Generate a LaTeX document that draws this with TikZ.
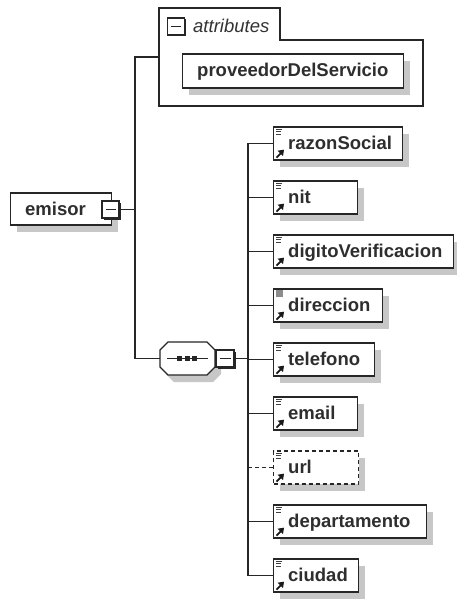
\documentclass[tikz,border=0pt]{standalone}
\usepackage{fontspec}
\setmainfont{Liberation Sans}
\usetikzlibrary{shadows}

\tikzset{
  tree/.style={line width=1.2pt, draw=black!85},
  shade/.style={drop shadow={shadow xshift=6pt, shadow yshift=-7pt, fill=black!22, opacity=1}},
  box/.style={rectangle, draw=black!85, line width=1.4pt, fill=white, inner sep=0pt,
    anchor=west, minimum height=33pt, shade},
  optbox/.style={dash pattern=on 4pt off 3pt},
  lbl/.style={anchor=base west, inner sep=0pt, text=black!82,
    font=\fontsize{18.5}{20}\selectfont\bfseries},
  grp/.style={anchor=base west, inner sep=0pt, text=black!80,
    font=\fontsize{18.5}{20}\selectfont\itshape},
  minusbox/.style={rectangle, draw=black!85, line width=1.2pt, fill=white, inner sep=0pt,
    minimum width=17pt, minimum height=17pt,
    drop shadow={shadow xshift=1.5pt, shadow yshift=-1.5pt, fill=black!85, opacity=1},
    path picture={\draw[line width=1pt, black!85]
      ([xshift=3.5pt]path picture bounding box.west) --
      ([xshift=-3.5pt]path picture bounding box.east);}},
  icon/.style={line width=0.9pt, draw=black!75},
  tipline/.style={line width=1.8pt, draw=black!90},
  tiphead/.style={fill=black!90}
}

% element box with its list marker and reference arrow
\newcommand\kidbox[5]{%
  \node[box, minimum width=#3pt, #5] (#1) at (273,#2) {};
  \node[lbl] (#1-t) at ([xshift=15pt,yshift=-5.5pt]#1.west) {#4};
  \draw[icon] ([shift={(3pt,-3pt)}]#1.north west) -- ++(6,0);
  \draw[icon] ([shift={(3pt,-5.5pt)}]#1.north west) -- ++(5,0);
  \draw[icon] ([shift={(3pt,-8pt)}]#1.north west) -- ++(5,0);
  \draw[tipline] ([shift={(3.5pt,3pt)}]#1.south west) -- ([shift={(8pt,7.5pt)}]#1.south west);
  \fill[tiphead] ([shift={(11pt,11pt)}]#1.south west) -- ([shift={(4.5pt,10pt)}]#1.south west)
    -- ([shift={(10pt,4.5pt)}]#1.south west) -- cycle;
}

\begin{document}
\begin{tikzpicture}[x=1pt, y=-1pt]
\useasboundingbox (0,0) rectangle (456,599);

% bus positions
\coordinate (busA) at (135,0);
\coordinate (busB) at (248,0);

% attributes group
\draw[tree, line width=1.3pt, fill=white] (159,106) -- (159,8) -- (280,8) -- (280,40)
  -- (423,40) -- (423,106) -- cycle;
\coordinate (attrport) at (159,57);
\node[minusbox] (attrmin) at (176,26.5) {};
\node[grp] (attrtxt) at (193,32.5) {attributes};
\node[box, minimum width=221pt, minimum height=34pt] (prov) at (182,71) {};
\node[lbl] (prov-t) at ([xshift=15pt,yshift=-6pt]prov.west) {proveedorDelServicio};

% root element
\node[box, minimum width=101pt, minimum height=32pt] (emisor) at (10,209) {};
\node[lbl] (emisor-t) at ([xshift=15pt,yshift=-6pt]emisor.west) {emisor};
\node[minusbox] (emin) at (110.5,209.5) {};

% sequence compositor
\node[inner sep=0pt, minimum width=55pt, minimum height=33pt] (seq) at (187.5,358.5) {};
\fill[black!22] (174,349) -- (213,349) -- (221,357) -- (221,374) -- (213,382)
  -- (174,382) -- (166,374) -- (166,357) -- cycle;
\draw[tree, line width=1.3pt, fill=white] (168,342) -- (207,342) -- (215,350) -- (215,367)
  -- (207,375) -- (168,375) -- (160,367) -- (160,350) -- cycle;
\draw[line width=1.2pt, black!85] (167,358.5) -- (208,358.5);
\foreach \cx in {179.5,187,194.5}
  \fill[black!85] (\cx-2.5,356) rectangle (\cx+2.5,361);
\node[minusbox, minimum width=18pt] (smin) at (225,358.5) {};

% child elements
\kidbox{razon}{143.5}{129}{razonSocial}{}
\kidbox{nit}{197.5}{84}{nit}{}
\kidbox{digito}{251.5}{180}{digitoVerificacion}{}
\kidbox{direc}{305.5}{109}{direccion}{}
\fill[black!45] ([shift={(2.5pt,-2pt)}]direc.north west) rectangle ++(7,7);
\kidbox{tel}{359.5}{101}{telefono}{}
\kidbox{email}{413.5}{84}{email}{}
\kidbox{url}{467.5}{85}{url}{optbox}
\kidbox{depto}{521.5}{153}{departamento}{}
\kidbox{ciudad}{575.5}{85}{ciudad}{}

% connectors
\draw[tree] (emin.east) -- (emin.east -| busA);
\draw[tree] (attrport) -- (attrport -| busA) -- (seq.west -| busA) -- (seq.west);
\draw[tree] (smin.east) -- (smin.east -| busB);
\draw[tree] (razon.west) -- (razon.west -| busB) -- (ciudad.west -| busB) -- (ciudad.west);
\foreach \k in {nit,digito,direc,tel,email,depto}
  \draw[tree] (\k.west) -- (\k.west -| busB);
\draw[tree, optbox] (url.west) -- (url.west -| busB);
\end{tikzpicture}
\end{document}
